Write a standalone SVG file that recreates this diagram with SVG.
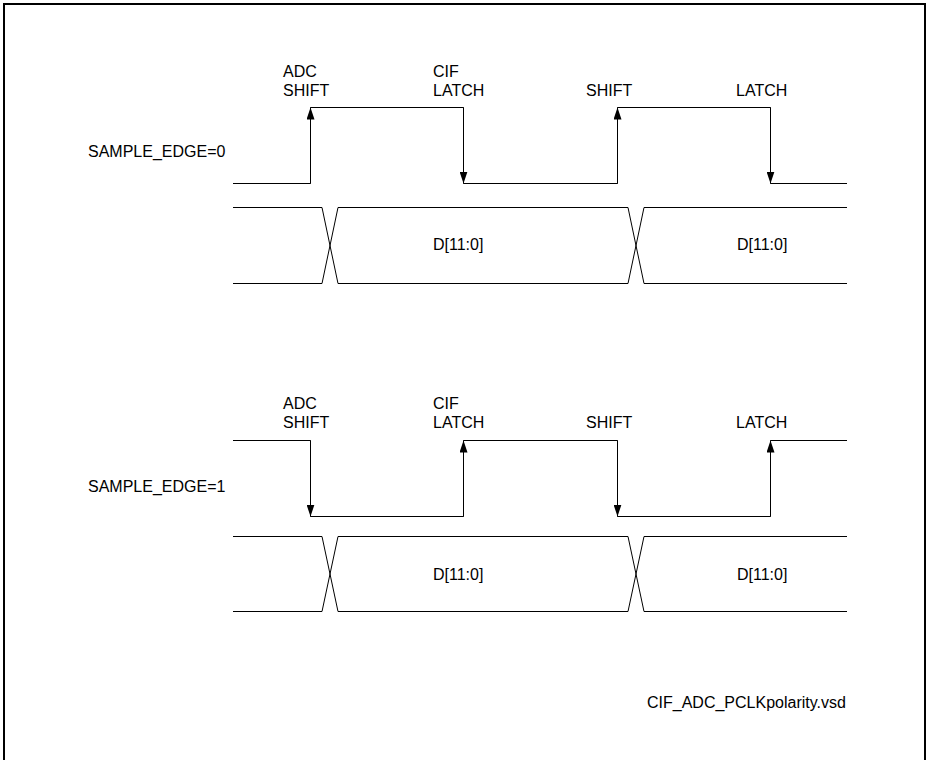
<svg xmlns="http://www.w3.org/2000/svg" width="927" height="760" viewBox="0 0 927 760">
<style>
text{font-family:"Liberation Sans",Arial,sans-serif;font-size:16px;fill:#000}
.w{fill:none;stroke:#000;stroke-width:1}
.e{fill:none;stroke:#000;stroke-width:1;marker-end:url(#ah)}
</style>
<defs>
<marker id="ah" viewBox="0 0 12 8" refX="12" refY="4" markerWidth="12" markerHeight="8" markerUnits="userSpaceOnUse" orient="auto">
<path d="M0,0 L12,4 L0,8 z" fill="#000"/>
</marker>
</defs>
<rect x="4" y="4" width="921" height="800" fill="#fff" stroke="#000" stroke-width="2"/>
<g id="labels-top">
<text x="88" y="157">SAMPLE_EDGE=0</text>
<text x="283" y="77">ADC</text>
<text x="283" y="96">SHIFT</text>
<text x="433" y="77">CIF</text>
<text x="433" y="96">LATCH</text>
<text x="586" y="96">SHIFT</text>
<text x="736" y="96">LATCH</text>
</g>
<g id="clk0">
<path class="w" d="M233,183.5 H310.5 V107.5 H463.5 V183.5 H617.5 V107.5 H770.5 V183.5 H847"/>
<line class="e" x1="310.5" y1="183.5" x2="310.5" y2="107.5"/>
<line class="e" x1="463.5" y1="107.5" x2="463.5" y2="183.5"/>
<line class="e" x1="617.5" y1="183.5" x2="617.5" y2="107.5"/>
<line class="e" x1="770.5" y1="107.5" x2="770.5" y2="183.5"/>
</g>
<g id="bus0">
<path class="w" d="M233,207.5 H322 L338,283.5 H628 L644,207.5 H847"/>
<path class="w" d="M233,283.5 H322 L338,207.5 H628 L644,283.5 H847"/>
<text x="433" y="250">D[11:0]</text>
<text x="737" y="250">D[11:0]</text>
</g>
<g id="labels-bottom">
<text x="88" y="492">SAMPLE_EDGE=1</text>
<text x="283" y="409">ADC</text>
<text x="283" y="428">SHIFT</text>
<text x="433" y="409">CIF</text>
<text x="433" y="428">LATCH</text>
<text x="586" y="428">SHIFT</text>
<text x="736" y="428">LATCH</text>
</g>
<g id="clk1">
<path class="w" d="M233,440.5 H310.5 V516.5 H463.5 V440.5 H617.5 V516.5 H770.5 V440.5 H847"/>
<line class="e" x1="310.5" y1="440.5" x2="310.5" y2="516.5"/>
<line class="e" x1="463.5" y1="516.5" x2="463.5" y2="440.5"/>
<line class="e" x1="617.5" y1="440.5" x2="617.5" y2="516.5"/>
<line class="e" x1="770.5" y1="516.5" x2="770.5" y2="440.5"/>
</g>
<g id="bus1">
<path class="w" d="M233,536.5 H322 L338,611.5 H628 L644,536.5 H847"/>
<path class="w" d="M233,611.5 H322 L338,536.5 H628 L644,611.5 H847"/>
<text x="433" y="580">D[11:0]</text>
<text x="737" y="580">D[11:0]</text>
</g>
<g id="footer">
<text x="647" y="708">CIF_ADC_PCLKpolarity.vsd</text>
</g>
</svg>
